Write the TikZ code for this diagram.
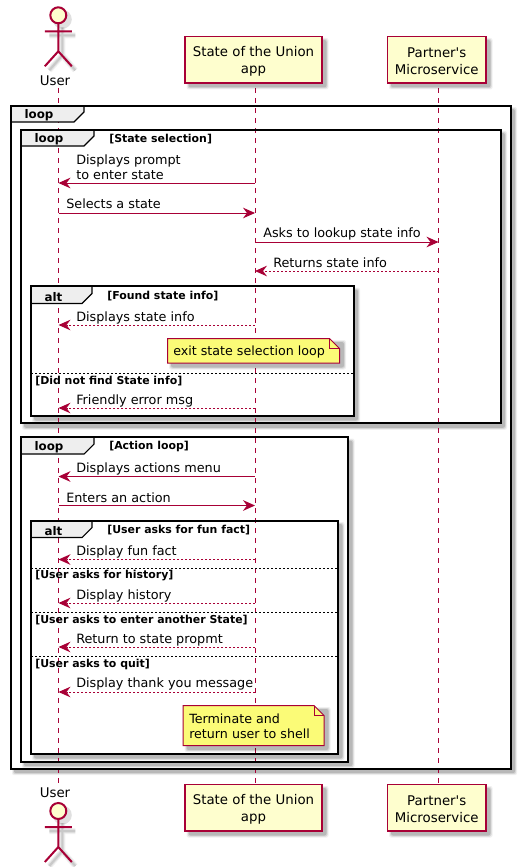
\documentclass[tikz,border=0pt]{standalone}
\usepackage{fontspec}
\setmainfont{DejaVu Sans}
\newfontfamily\plainfam{DejaVu Sans}
\usetikzlibrary{arrows.meta}
\definecolor{pu}{HTML}{A80036}
\definecolor{boxfill}{HTML}{FEFECE}
\definecolor{tabfill}{HTML}{EEEEEE}
\definecolor{notefill}{HTML}{FBFB77}
\newcommand{\softrect}[4]{%
  \foreach \e/\o in {2.5/.06,1.5/.10,0.5/.14}{%
    \fill[black,opacity=\o,rounded corners=1.5] (#1+4-\e,#2+4-\e) rectangle (#3+4+\e,#4+4+\e);}}
\newcommand{\pframe}[4]{\softrect{#1}{#2}{#3}{#4}\fill[white] (#1,#2) rectangle (#3,#4);}
\newcommand{\pborder}[4]{\draw[frameline] (#1,#2) rectangle (#3,#4);}
\newcommand{\ptab}[5]{% x1 y1 x2(right) y2(bottom) name-label
  \fill[tabfill] (#1,#2) -- (#3,#2) -- (#3,#4-10) -- (#3-10,#4) -- (#1,#4) -- cycle;
  \draw[black,line width=.8] (#3,#2) -- (#3,#4-10) -- (#3-10,#4) -- (#1,#4);}
\newcommand{\actor}[2]{% cx, head centre y
  \begin{scope}[shift={(#1+4,#2+4)}]
    \foreach \w/\o in {4.5/.05,3/.07,1.5/.10}{
      \draw[black,opacity=\o,line width=\w] (0,8) -- (0,36) (-13,16) -- (13,16) (-13,51) -- (0,36) -- (13,51);}
    \fill[black,opacity=.12] (0,0) circle (9.5);
  \end{scope}
  \begin{scope}[shift={(#1,#2)}]
    \draw[pu,line width=1.5] (0,8) -- (0,36) (-13.5,16) -- (13.5,16) (-13.5,51) -- (0,36) -- (13.5,51);
    \draw[pu,line width=1.5,fill=boxfill] (0,0) circle (8);
  \end{scope}}
\tikzset{
  x=0.75pt,y=-0.75pt,
  frameline/.style={black,line width=1.5pt},
  lifeline/.style={pu,line width=.75pt,dash pattern=on 3.75pt off 3.75pt},
  msgsolid/.style={pu,line width=.75pt,-{Stealth[length=9pt,width=8pt,inset=3pt]}},
  msgdash/.style={pu,line width=.75pt,dash pattern=on 1.5pt off 1.5pt,-{Stealth[length=9pt,width=8pt,inset=3pt,line width=0pt]}},
  msgtext/.style={anchor=west,inner sep=0,yshift=-.9pt,align=left,font=\fontsize{9.6pt}{11.3pt}\selectfont},
  guard/.style={anchor=west,inner sep=0,yshift=-.6pt,font=\fontsize{8.2pt}{9pt}\selectfont\bfseries},
  taglabel/.style={anchor=center,inner sep=0,yshift=-.5pt,font=\fontsize{8.9pt}{11pt}\selectfont\bfseries},
  partbox/.style={draw=pu,fill=boxfill,line width=1.1pt,inner sep=0,align=center,font=\fontsize{10pt}{12.7pt}\selectfont},
  actorname/.style={anchor=center,inner sep=0,font=\fontsize{10pt}{12pt}\selectfont},
  notebody/.style={draw=pu,fill=notefill,line width=.75pt},
  notetext/.style={anchor=west,inner sep=0,yshift=-.7pt,align=left,font=\fontsize{9.5pt}{11.6pt}\selectfont},
  sep/.style={black,line width=.75pt,dash pattern=on 1.5pt off 1.5pt},
}
\begin{document}
\begin{tikzpicture}
\useasboundingbox (0,0) rectangle (524,867);
\fill[white] (0,0) rectangle (524,867);
% frame backgrounds and shadows
\pframe{10.5}{105.5}{510.5}{768.7}
\pframe{20.5}{129.5}{500.5}{423.3}
\pframe{30.5}{286}{353.5}{416}
\pframe{20.5}{437}{348}{761.7}
\pframe{30.5}{520.5}{338}{754}
% lifeline ends
\coordinate (uT) at (58.5,88); \coordinate (uB) at (58.5,784);
\coordinate (aT) at (255,88);  \coordinate (aB) at (255,784);
\coordinate (pT) at (438.5,88);\coordinate (pB) at (438.5,784);
\draw[lifeline] (uT) -- (uB);
\draw[lifeline] (aT) -- (aB);
\draw[lifeline] (pT) -- (pB);
% tabs
\ptab{10.5}{105.5}{84}{122}{}
\ptab{20.5}{129.5}{94}{146}{}
\ptab{30.5}{286}{92}{303.5}{}
\ptab{20.5}{437}{94}{454}{}
\ptab{30.5}{520.5}{92}{537.5}{}
% borders
\pborder{10.5}{105.5}{510.5}{768.7}
\pborder{20.5}{129.5}{500.5}{423.3}
\pborder{30.5}{286}{353.5}{416}
\pborder{20.5}{437}{348}{761.7}
\pborder{30.5}{520.5}{338}{754}
% tab labels
\node[taglabel] (t0) at (39,115) {loop};
\node[taglabel] (t1) at (49,139) {loop};
\node[guard] (g1) at (109,138) {[State selection]};
\node[taglabel] (t2) at (53.5,296) {alt};
\node[guard] (g2) at (107,295) {[Found state info]};
\node[taglabel] (t3) at (49,447) {loop};
\node[guard] (g3) at (109,446) {[Action loop]};
\node[taglabel] (t4) at (53.5,530) {alt};
\node[guard] (g4) at (107,529) {[User asks for fun fact]};
% separators
\coordinate (s1l) at (31,373.5); \coordinate (s1r) at (353,373.5);
\coordinate (s2l) at (31,568.5); \coordinate (s2r) at (337.5,568.5);
\coordinate (s3l) at (31,612.3); \coordinate (s3r) at (337.5,612.3);
\coordinate (s4l) at (31,656.3); \coordinate (s4r) at (337.5,656.3);
\draw[sep] (s1l) -- (s1r);
\draw[sep] (s2l) -- (s2r);
\draw[sep] (s3l) -- (s3r);
\draw[sep] (s4l) -- (s4r);
\node[guard] (g5) at (35,380) {[Did not find State info]};
\node[guard] (g6) at (35,575) {[User asks for history]};
\node[guard] (g7) at (35,619) {[User asks to enter another State]};
\node[guard] (g8) at (35,664) {[User asks to quit]};
% messages
\coordinate (m1) at (0,183);  \coordinate (m2) at (0,213);
\coordinate (m3) at (0,242);  \coordinate (m4) at (0,271);
\coordinate (m5) at (0,325);  \coordinate (m6) at (0,408);
\coordinate (m7) at (0,476.5);\coordinate (m8) at (0,505.5);
\coordinate (m9) at (0,559.5);\coordinate (m10) at (0,603);
\coordinate (m11) at (0,647); \coordinate (m12) at (0,692);
\draw[msgsolid] (aT|-m1) -- (uT|-m1);
\draw[msgsolid] (uT|-m2) -- (aT|-m2);
\draw[msgsolid] (aT|-m3) -- (pT|-m3);
\draw[msgdash]  (pT|-m4) -- (aT|-m4);
\draw[msgdash]  (aT|-m5) -- (uT|-m5);
\draw[msgdash]  (aT|-m6) -- (uT|-m6);
\draw[msgsolid] (aT|-m7) -- (uT|-m7);
\draw[msgsolid] (uT|-m8) -- (aT|-m8);
\draw[msgdash]  (aT|-m9) -- (uT|-m9);
\draw[msgdash]  (aT|-m10) -- (uT|-m10);
\draw[msgdash]  (aT|-m11) -- (uT|-m11);
\draw[msgdash]  (aT|-m12) -- (uT|-m12);
\node[msgtext] (l1) at (76,166) {Displays prompt\\to enter state};
\node[msgtext] (l2) at (66,202.5) {Selects a state};
\node[msgtext] (l3) at (263,233) {Asks to lookup state info};
\node[msgtext] (l4) at (273,262) {Returns state info};
\node[msgtext] (l5) at (76,316.5) {Displays state info};
\node[msgtext] (l6) at (76,399.5) {Friendly error msg};
\node[msgtext] (l7) at (76,467.5) {Displays actions menu};
\node[msgtext] (l8) at (66,496.5) {Enters an action};
\node[msgtext] (l9) at (76,550.5) {Display fun fact};
\node[msgtext] (l10) at (76,594.5) {Display history};
\node[msgtext] (l11) at (76,638.5) {Return to state propmt};
\node[msgtext] (l12) at (76,683) {Display thank you message};
% notes
\softrect{167.5}{338.5}{339.5}{363}
\draw[notebody] (167.5,338.5) -- (329.5,338.5) -- (339.5,348.5) -- (339.5,363) -- (167.5,363) -- cycle;
\draw[pu,line width=.75pt] (329.5,338.5) -- (329.5,348.5) -- (339.5,348.5);
\node[notetext] (n1) at (173,351.5) {exit state selection loop};
\softrect{183}{705.5}{324}{745.5}
\draw[notebody] (183,705.5) -- (314,705.5) -- (324,715.5) -- (324,745.5) -- (183,745.5) -- cycle;
\draw[pu,line width=.75pt] (314,705.5) -- (314,715.5) -- (324,715.5);
\node[notetext] (n2) at (189,725.5) {Terminate and\\return user to shell};
% participants
\actor{58.3}{15.3}
\node[actorname] (uTop) at (55,81) {User};
\softrect{185}{36.5}{322}{83}
\softrect{387.5}{36.5}{486}{83}
\node[partbox,minimum width=102.75pt,minimum height=34.9pt] (aTop) at (253.5,59.75) {\rule{0pt}{10pt}State of the Union\\app};
\node[partbox,minimum width=73.9pt,minimum height=34.9pt] (pTop) at (436.75,59.75) {\rule{0pt}{10pt}Partner{\plainfam '}s\\Microservice};
\node[actorname] (uBot) at (55,793) {User};
\actor{58.3}{811}
\softrect{185}{784.5}{322}{831}
\softrect{387.5}{784.5}{486}{831}
\node[partbox,minimum width=102.75pt,minimum height=34.9pt] (aBot) at (253.5,807.75) {\rule{0pt}{10pt}State of the Union\\app};
\node[partbox,minimum width=73.9pt,minimum height=34.9pt] (pBot) at (436.75,807.75) {\rule{0pt}{10pt}Partner{\plainfam '}s\\Microservice};
\end{tikzpicture}
\end{document}
